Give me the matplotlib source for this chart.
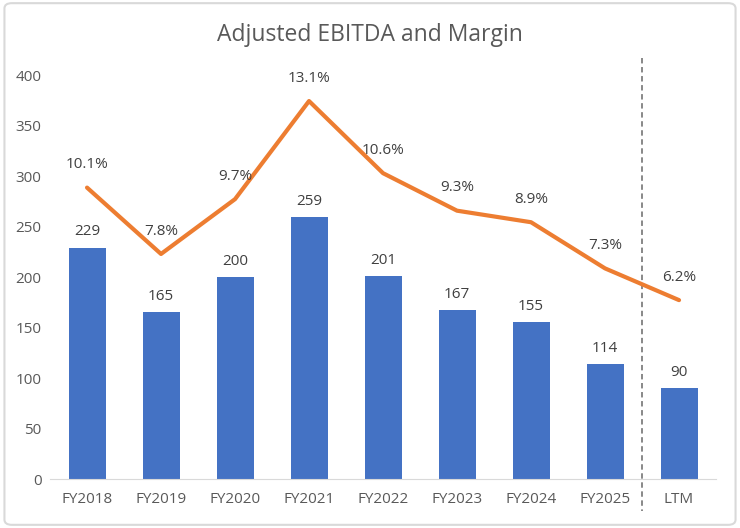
import matplotlib
matplotlib.use("Agg")
import matplotlib.pyplot as plt
import matplotlib.transforms as mtransforms
from matplotlib.patches import FancyBboxPatch

categories = ["FY2018", "FY2019", "FY2020", "FY2021", "FY2022", "FY2023", "FY2024", "FY2025", "LTM"]
ebitda = [229, 165, 200, 259, 201, 167, 155, 114, 90]
margin = [10.1, 7.8, 9.7, 13.1, 10.6, 9.3, 8.9, 7.3, 6.2]

plt.rcParams["font.family"] = ["Open Sans", "DejaVu Sans"]
grey = "#595959"

fig = plt.figure(figsize=(7.4, 5.28), dpi=100)
ax = fig.add_axes([0.0676, 0.0928, 0.9, 0.765])
x = list(range(len(categories)))

ax.bar(x, ebitda, width=0.5, color="#4472C4", zorder=2)
for xi, v in zip(x, ebitda):
    ax.annotate(str(v), (xi, v), xytext=(0, 6), textcoords="offset points",
                ha="center", va="bottom", fontsize=11, color="#404040")

ax.set_ylim(0, 400)
ax.set_xlim(-0.5, len(categories) - 0.5)
ax.set_yticks(range(0, 401, 50))
ax.set_xticks(x)
ax.set_xticklabels(categories)
ax.tick_params(axis="both", length=0, labelsize=11, colors=grey)
ax.tick_params(axis="x", pad=9)
ax.tick_params(axis="y", pad=6)
for s in ["top", "right", "left"]:
    ax.spines[s].set_visible(False)
ax.spines["bottom"].set_color("#d9d9d9")

ax2 = ax.twinx()
ax2.plot(x, margin, color="#ED7D31", lw=3, solid_joinstyle="round", solid_capstyle="round", zorder=3)
ax2.set_ylim(0, 14)
ax2.axis("off")
for xi, m in zip(x, margin):
    ax2.annotate(f"{m:.1f}%", (xi, m), xytext=(0, 11), textcoords="offset points",
                 ha="center", va="bottom", fontsize=11, color="#404040")

trans = mtransforms.blended_transform_factory(ax.transData, ax.transAxes)
ax.plot([7.5, 7.5], [1.042, -0.08], transform=trans, clip_on=False,
        color="#7f7f7f", lw=1.3, ls=(0, (3, 2)))

fig.text(0.5, 0.934, "Adjusted EBITDA and Margin", ha="center", va="center",
         fontsize=16.5, color=grey)

fig.patches.append(FancyBboxPatch((0.006, 0.006), 0.988, 0.988,
                                  boxstyle="round,pad=0,rounding_size=0.01",
                                  transform=fig.transFigure, fill=False,
                                  edgecolor="#d9d9d9", lw=1.5))

fig.savefig("out.png", dpi=100)
